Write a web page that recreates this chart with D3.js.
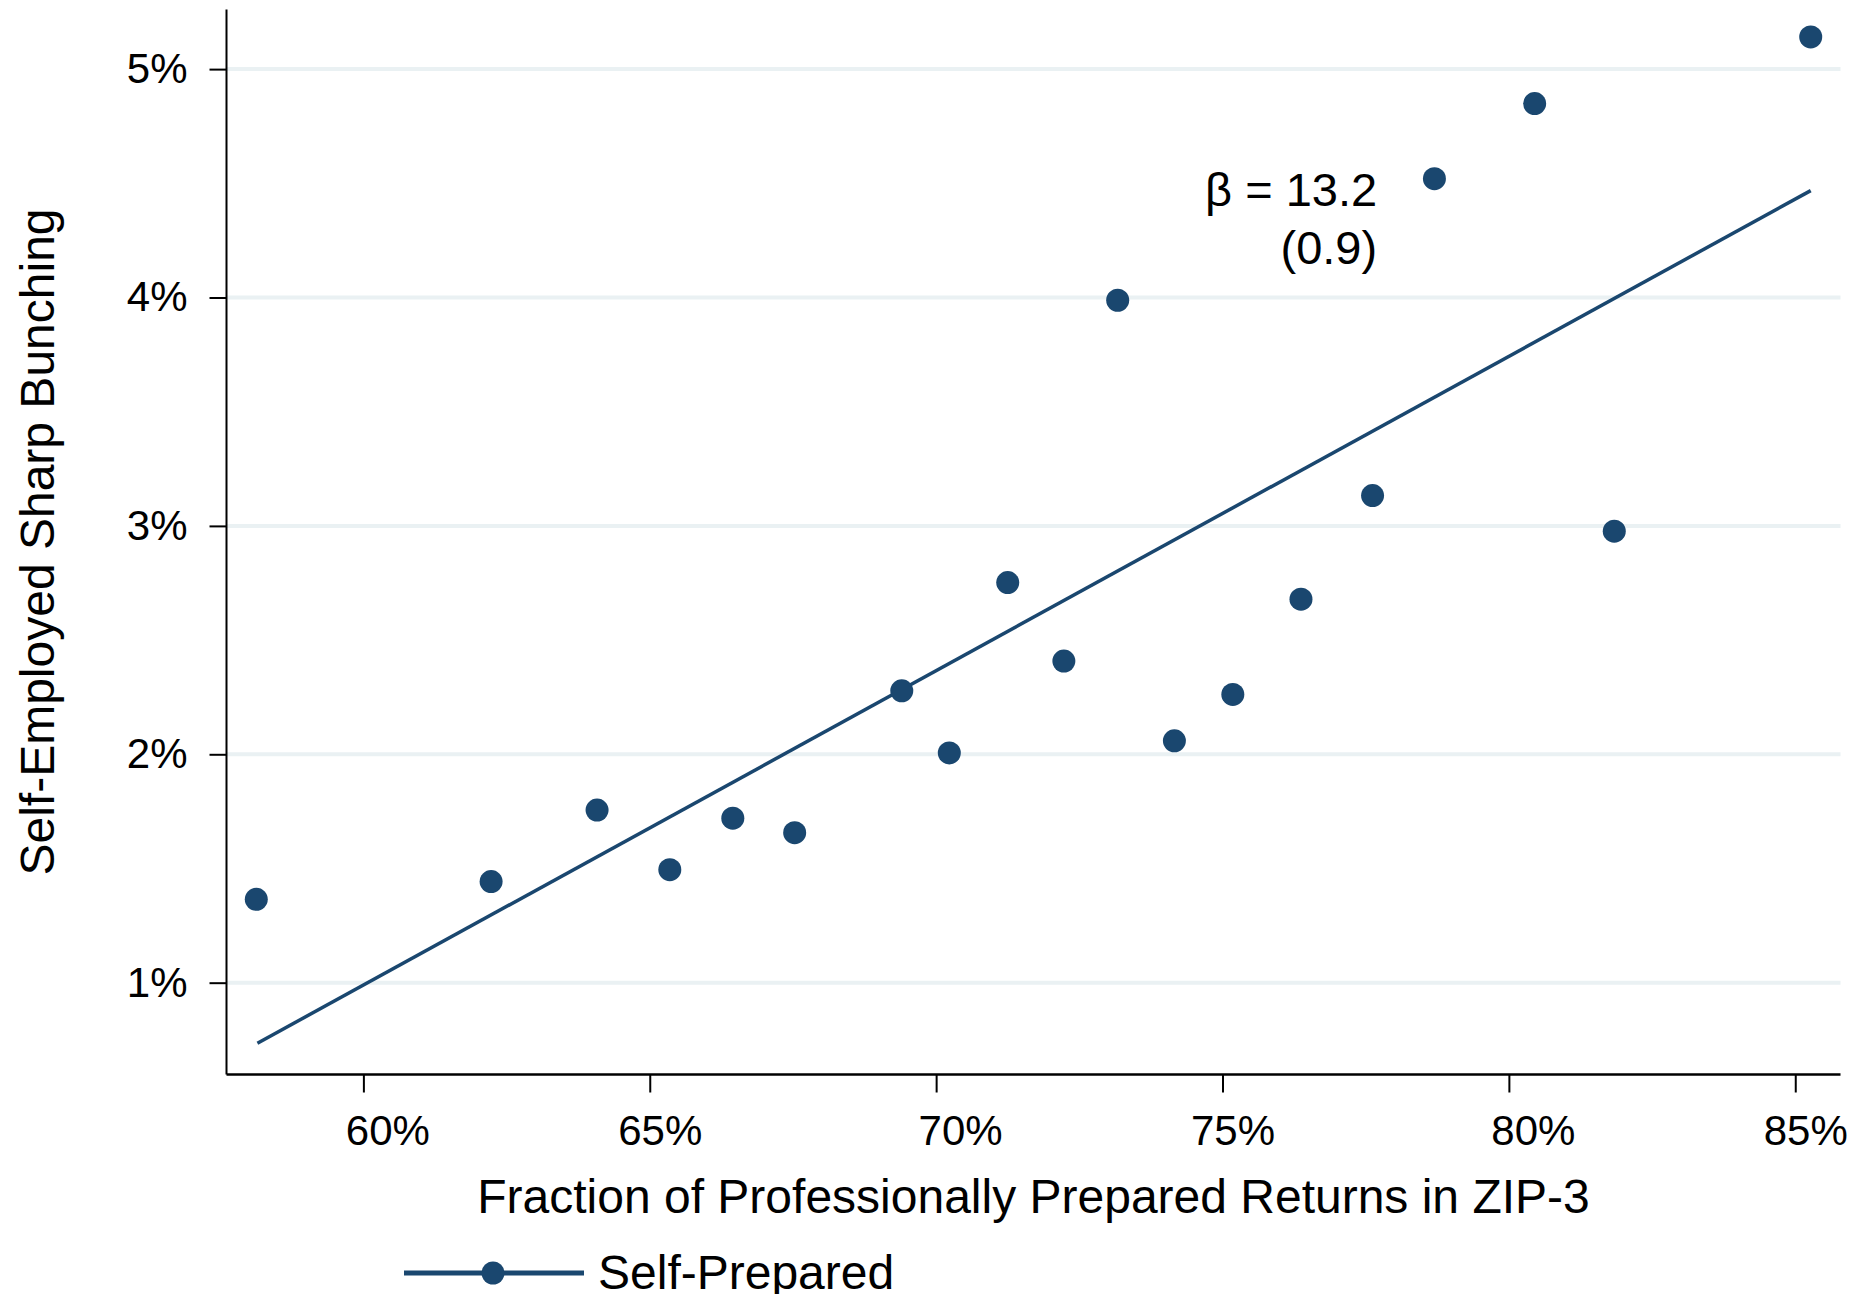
<!DOCTYPE html>
<html>
<head>
<meta charset="utf-8">
<script src="https://cdn.jsdelivr.net/npm/d3@7"></script>
<style>
    body { margin: 0; background: #fff; }
    svg { display: block; font-family: "Liberation Sans", Arial, sans-serif; }
</style>
</head>
<body>
<svg width="1868" height="1294"></svg>
<script>
// share of professionally prepared returns (%) per ZIP-3 bin
const fracPrepared = [58.13, 62.23, 64.08, 65.35, 66.45, 67.53, 69.40, 70.23, 71.25, 72.23,
    73.17, 74.16, 75.18, 76.37, 77.62, 78.70, 80.45, 81.84, 85.27];
// self-employed sharp bunching (%)
const sharpBunching = [1.365, 1.443, 1.756, 1.495, 1.720, 1.657, 2.278, 2.006, 2.752, 2.408,
    3.988, 2.059, 2.262, 2.679, 3.133, 4.520, 4.849, 2.977, 5.141];

// fitted line end points
const fitX = [58.15, 85.27];
const fitY = [0.735, 4.468];

const xTicks = [60, 65, 70, 75, 80, 85];
const yTicks = [1, 2, 3, 4, 5];

const annotation = ["β = 13.2", "(0.9)"];

const navy = "#1a476f";

function drawChart() {

    const svg = d3.select("svg");

    const attr = {
        left: 226.5,
        right: 1840.5,
        top: 9.5,
        bottom: 1074.5
    };

    const scX = d3.scaleLinear()
        .domain([57.61, 85.79])
        .range([attr.left, attr.right]);

    const scY = d3.scaleLinear()
        .domain([0.598, 5.261])
        .range([attr.bottom, attr.top]);

    // grid
    svg.append("g")
        .selectAll("line")
        .data(yTicks)
        .enter()
        .append("line")
        .attr("x1", attr.left)
        .attr("x2", attr.right)
        .attr("y1", d => scY(d))
        .attr("y2", d => scY(d))
        .attr("stroke", "#eaf1f3")
        .attr("stroke-width", 4);

    // y axis
    const gy = svg.append("g")
        .attr("transform", `translate(${attr.left},0)`)
        .call(d3.axisLeft(scY)
            .tickValues(yTicks)
            .tickSize(17)
            .tickPadding(22)
            .tickFormat(d => d + "%"));

    gy.select(".domain")
        .attr("d", `M0,${attr.top}V${attr.bottom}`)
        .attr("stroke", "#000")
        .attr("stroke-width", 2);

    gy.selectAll(".tick line").attr("stroke", "#000").attr("stroke-width", 2);
    gy.selectAll(".tick text")
        .attr("font-size", 42)
        .attr("fill", "#000")
        .attr("font-family", "Liberation Sans, Arial, sans-serif");

    // x axis
    const gx = svg.append("g")
        .attr("transform", `translate(0,${attr.bottom})`)
        .call(d3.axisBottom(scX)
            .tickValues(xTicks)
            .tickSize(18)
            .tickPadding(23)
            .tickFormat(d => d + "%"));

    gx.select(".domain")
        .attr("d", `M${attr.left},0H${attr.right}`)
        .attr("stroke", "#000")
        .attr("stroke-width", 2.5);

    gx.selectAll(".tick line").attr("stroke", "#000").attr("stroke-width", 2);
    // labels in the original sit a little right of their ticks
    gx.selectAll(".tick text")
        .attr("font-size", 42)
        .attr("fill", "#000")
        .attr("dx", (d, i) => i % 2 === 0 ? 24 : 10)
        .attr("font-family", "Liberation Sans, Arial, sans-serif");

    // fit line
    const line = d3.line()
        .x(d => scX(d[0]))
        .y(d => scY(d[1]));

    svg.append("path")
        .datum(d3.zip(fitX, fitY))
        .attr("fill", "none")
        .attr("stroke", navy)
        .attr("stroke-width", 3.5)
        .attr("d", line);

    // dots
    svg.append("g")
        .selectAll("circle")
        .data(d3.zip(fracPrepared, sharpBunching))
        .enter()
        .append("circle")
        .attr("cx", d => scX(d[0]))
        .attr("cy", d => scY(d[1]))
        .attr("r", 11.5)
        .attr("fill", navy);

    // annotation
    svg.append("text")
        .attr("text-anchor", "end")
        .attr("font-size", 47)
        .selectAll("tspan")
        .data(annotation)
        .enter()
        .append("tspan")
        .attr("x", scX(77.70))
        .attr("y", (d, i) => scY(4.40) + i * 58)
        .text(d => d);

    // axis titles
    svg.append("text")
        .attr("x", (attr.left + attr.right) / 2)
        .attr("y", 1213)
        .attr("text-anchor", "middle")
        .attr("font-size", 48)
        .text("Fraction of Professionally Prepared Returns in ZIP-3");

    svg.append("text")
        .attr("transform", `translate(54,${(attr.top + attr.bottom) / 2}) rotate(-90)`)
        .attr("text-anchor", "middle")
        .attr("font-size", 48)
        .text("Self-Employed Sharp Bunching");

    // legend
    const lg = svg.append("g").attr("transform", "translate(404,1273)");

    lg.append("line")
        .attr("x1", 0)
        .attr("x2", 180)
        .attr("stroke", navy)
        .attr("stroke-width", 5);

    lg.append("circle")
        .attr("cx", 89)
        .attr("r", 11.5)
        .attr("fill", navy);

    lg.append("text")
        .attr("x", 194)
        .attr("y", 16)
        .attr("font-size", 48)
        .text("Self-Prepared");
}

drawChart();
</script>
</body>
</html>
